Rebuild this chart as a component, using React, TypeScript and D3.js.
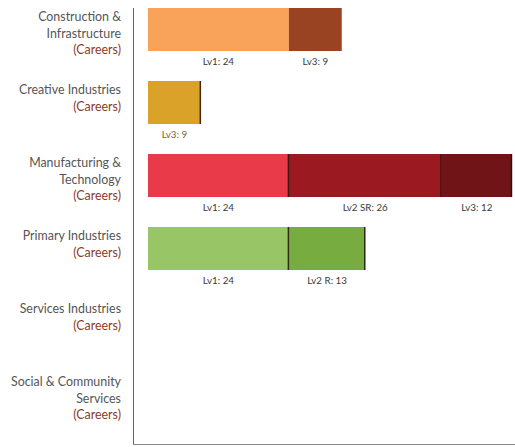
import React, { useRef, useEffect } from "react";
import * as d3 from "d3";

// categories, each row's label lines and its stacked segments
const categories = [
  "Construction & Infrastructure",
  "Creative Industries",
  "Manufacturing & Technology",
  "Primary Industries",
  "Services Industries",
  "Social & Community Services",
];
const categoryLines = [
  ["Construction &", "Infrastructure"],
  ["Creative Industries"],
  ["Manufacturing &", "Technology"],
  ["Primary Industries"],
  ["Services Industries"],
  ["Social & Community", "Services"],
];
const segmentNames = [
  ["Lv1", "Lv3"],
  ["Lv3"],
  ["Lv1", "Lv2 SR", "Lv3"],
  ["Lv1", "Lv2 R"],
  [],
  [],
];
const segmentValues = [[24, 9], [9], [24, 26, 12], [24, 13], [], []];
const segmentColors = [
  ["#f8a25a", "#9a4323"],
  ["#dba22a"],
  ["#e83a48", "#9b1a21", "#711418"],
  ["#98c565", "#77ad40"],
  [],
  [],
];
const outlined = [false, true, true, true, false, false];
const labelColors = ["#3a3a3a", "#80641f", "#3a3a3a", "#3a3a3a", "#3a3a3a", "#3a3a3a"];

type Seg = { row: number; name: string; x0: number; x1: number; color: string };

export default function App() {
  const svgRef = useRef<SVGSVGElement | null>(null);

  useEffect(() => {
    const svg = d3.select(svgRef.current);
    svg.selectAll("*").remove();
    const width = 515;
    const height = 447;

    const x = d3.scaleLinear().domain([0, 62]).range([148, 512]);
    const y = d3
      .scaleBand()
      .domain(categories)
      .range([8, 416])
      .paddingInner(30 / 73)
      .paddingOuter(0);

    // build stacked segments
    const segs: Seg[] = [];
    segmentValues.forEach((vals, row) => {
      let acc = 0;
      vals.forEach((v, k) => {
        segs.push({ row, name: segmentNames[row][k], x0: acc, x1: acc + v, color: segmentColors[row][k] });
        acc += v;
      });
    });

    // axis frame
    svg
      .append("line")
      .attr("x1", 133.5)
      .attr("x2", 133.5)
      .attr("y1", 8)
      .attr("y2", height - 2)
      .attr("stroke", "#666");
    svg
      .append("line")
      .attr("x1", 133)
      .attr("x2", width)
      .attr("y1", height - 2.5)
      .attr("y2", height - 2.5)
      .attr("stroke", "#888");

    // bars
    svg
      .append("g")
      .selectAll("rect")
      .data(segs)
      .join("rect")
      .attr("x", (d) => x(d.x0))
      .attr("y", (d) => y(categories[d.row]) ?? 0)
      .attr("width", (d) => x(d.x1) - x(d.x0))
      .attr("height", y.bandwidth())
      .attr("fill", (d) => d.color);

    // dark separators at segment ends
    svg
      .append("g")
      .selectAll("line")
      .data(segs.filter((d) => outlined[d.row]))
      .join("line")
      .attr("x1", (d) => x(d.x1) - 0.5)
      .attr("x2", (d) => x(d.x1) - 0.5)
      .attr("y1", (d) => y(categories[d.row]) ?? 0)
      .attr("y2", (d) => (y(categories[d.row]) ?? 0) + y.bandwidth())
      .attr("stroke", "#1e1208")
      .attr("stroke-opacity", 0.85)
      .attr("stroke-width", 1.5);

    // segment value labels
    svg
      .append("g")
      .selectAll("text")
      .data(segs)
      .join("text")
      .attr("x", (d) => (x(d.x0) + x(d.x1)) / 2)
      .attr("y", (d) => (y(categories[d.row]) ?? 0) + y.bandwidth() + 14)
      .attr("text-anchor", "middle")
      .attr("font-family", "Lato, sans-serif")
      .attr("font-size", 9.8)
      .attr("fill", (d) => labelColors[d.row])
      .text((d) => `${d.name}: ${d.x1 - d.x0}`);

    // category labels
    const lab = svg
      .append("g")
      .selectAll("text")
      .data(categories)
      .join("text")
      .attr("text-anchor", "end")
      .attr("font-family", "Lato, sans-serif")
      .attr("font-size", 12.4)
      .attr("fill", "#555");
    lab.each(function (c, i) {
      const t = d3.select(this);
      const top = (y(c) ?? 0) + 13;
      const lines = categoryLines[i];
      lines.forEach((ln, k) => {
        t.append("tspan").attr("x", 121).attr("y", top + k * 16.5).text(ln);
      });
      t.append("tspan")
        .attr("x", 121)
        .attr("y", top + lines.length * 16.5)
        .attr("fill", "#8b3a2a")
        .text("(Careers)");
    });
  }, []);

  return (
    <svg
      ref={svgRef}
      width={515}
      height={447}
      style={{ position: "absolute", left: 0, top: 0, background: "#fff" }}
    />
  );
}
